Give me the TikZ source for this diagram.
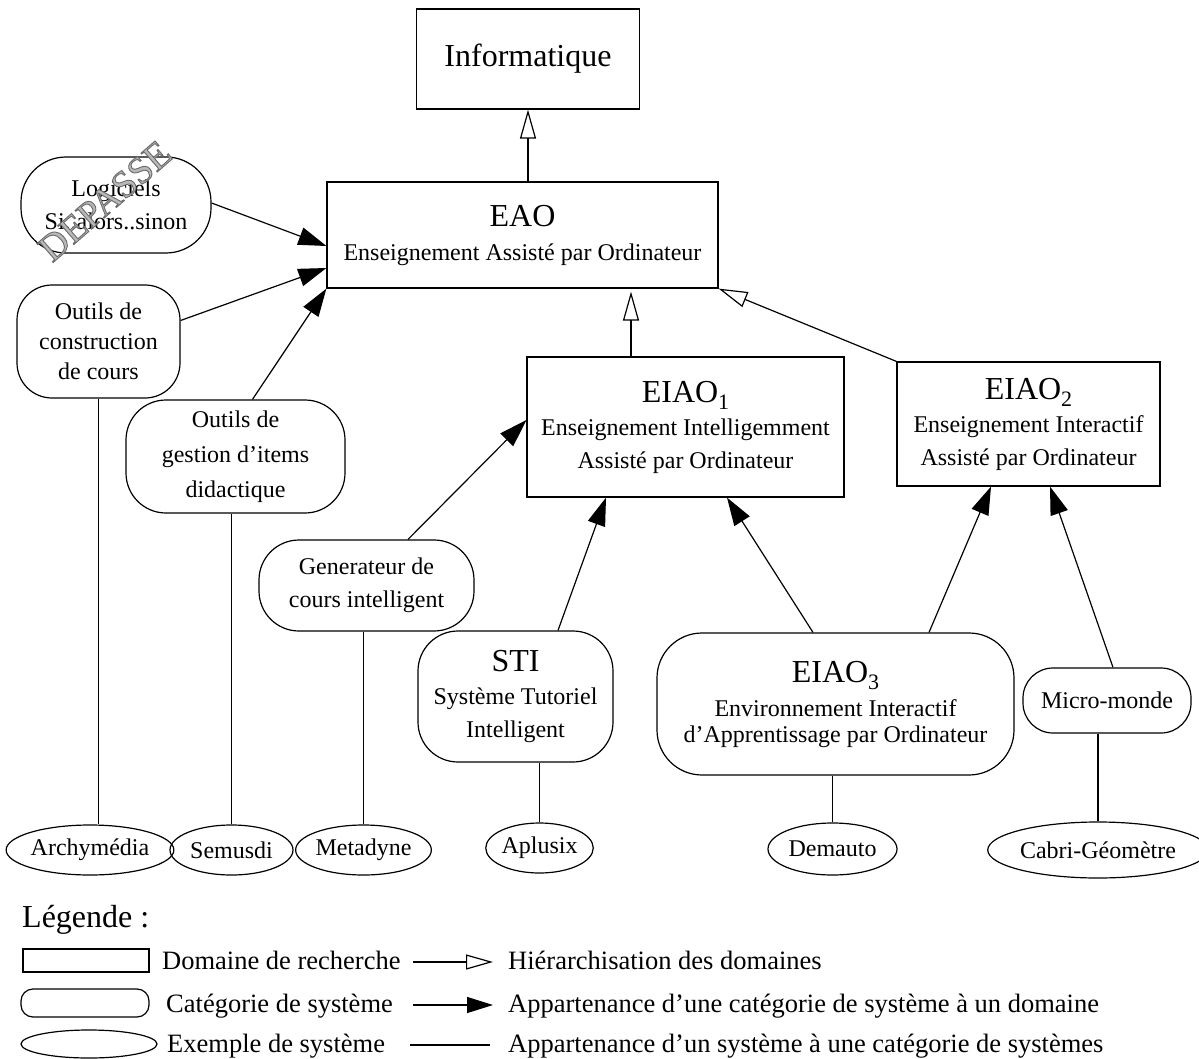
\documentclass[tikz,border=0pt]{standalone}
\usepackage{fontspec}
\setmainfont{Liberation Serif}
\usetikzlibrary{arrows.meta,shapes.geometric}

\newcommand\fs[2]{\fontsize{#1}{#2}\selectfont}
\newcommand\idx[1]{\raisebox{-7pt}{\fs{22}{22}#1}}
\definecolor{wmfill}{gray}{0.72}

\tikzset{
  domainbox/.style={draw, line width=1.2pt, inner sep=0pt, align=center, font=\fs{24}{33}},
  categorybox/.style={draw, line width=1.2pt, inner sep=0pt, align=center, font=\fs{24}{33}},
  examplebox/.style={draw, ellipse, line width=1.2pt, inner sep=0pt, font=\fs{24}{24}},
  hierarrow/.style={line width=1.2pt, -{Triangle[open, length=29pt, width=16pt]}},
  memberarrow/.style={line width=1.2pt, -{Triangle[length=28pt, width=18pt]}},
  instline/.style={line width=1.2pt},
  keytext/.style={anchor=base west, inner sep=0pt, font=\fs{26.5}{26.5}},
}

\begin{document}
\begin{tikzpicture}[x=1pt, y=-1pt]
\useasboundingbox (0,0) rectangle (1199,1059);

% research domains
\node[domainbox, minimum width=223pt, minimum height=100pt] (info) at (528,59)
  {\fs{32}{33}Informatique};
\node[domainbox, minimum width=391pt, minimum height=106pt, font=\fs{24}{34}] (eao) at (522.5,235)
  {{\fs{32}{34}EAO}\\Enseignement Assisté par Ordinateur};
\node[domainbox, minimum width=317pt, minimum height=140pt] (eiao1) at (685.5,427)
  {{\fs{32}{33}EIAO\idx{1}}\\Enseignement Intelligemment\\Assisté par Ordinateur};
\node[domainbox, minimum width=263pt, minimum height=124pt] (eiao2) at (1028.5,424)
  {{\fs{32}{33}EIAO\idx{2}}\\Enseignement Interactif\\Assisté par Ordinateur};

% system categories
\node[categorybox, rounded corners=45pt, minimum width=190pt, minimum height=96pt] (logi) at (116,205)
  {Logiciels\\Si..alors..sinon};
\node[categorybox, rounded corners=35pt, minimum width=163pt, minimum height=113pt, font=\fs{24}{30}] (constr) at (98.5,341.5)
  {Outils de\\construction\\de cours};
\node[categorybox, rounded corners=40pt, minimum width=219pt, minimum height=113pt, font=\fs{24}{35}] (gestion) at (235.5,456.5)
  {Outils de\\gestion d’items\\didactique};
\node[categorybox, rounded corners=40pt, minimum width=215pt, minimum height=91pt] (gen) at (366.5,585.5)
  {Generateur de\\cours intelligent};
\node[categorybox, rounded corners=40pt, minimum width=195pt, minimum height=131pt] (sti) at (515.5,696.5)
  {{\fs{32}{33}STI}\\Système Tutoriel\\Intelligent};
\node[categorybox, rounded corners=45pt, minimum width=357pt, minimum height=142pt, font=\fs{24}{34}] (eiao3) at (835.5,704)
  {{\fs{32}{34}EIAO\idx{3}}\\Environnement Interactif\\[-8pt]d’Apprentissage par Ordinateur};
\node[categorybox, rounded corners=30pt, minimum width=168pt, minimum height=65pt] (micro) at (1107,700.5)
  {Micro-monde};

% example systems
\node[examplebox, minimum width=156pt, minimum height=50pt] (arch) at (90,850) {Archymédia};
\node[examplebox, minimum width=123pt, minimum height=50pt] (semu) at (231.5,850) {Semusdi};
\node[examplebox, minimum width=127pt, minimum height=50pt] (meta) at (363.5,850) {Metadyne};
\node[examplebox, minimum width=97pt, minimum height=50pt] (aplu) at (539.5,848) {Aplusix};
\node[examplebox, minimum width=129pt, minimum height=52pt] (dema) at (832.5,849) {Demauto};
\node[examplebox, minimum width=200pt, minimum height=56pt] (cabri) at (1098,850) {Cabri-Géomètre};

% domain hierarchy
\draw[hierarrow] (eao.north -| info.south) -- (info.south);
\coordinate (up1) at ([xshift=-54.5pt]eiao1.north);
\draw[hierarrow] (up1) -- ([yshift=-3pt]up1 |- eao.south);
\draw[hierarrow] (eiao2.north west) -- (eao.south east);

% categories belonging to domains
\draw[memberarrow] ([yshift=2pt]logi.east) -- ([yshift=-11pt]eao.west);
\draw[memberarrow] ([yshift=21pt]constr.east) -- ([yshift=-33pt]eao.west);
\draw[memberarrow] ([xshift=17pt]gestion.north) -- (eao.south west);
\draw[memberarrow] ([xshift=41.5pt]gen.north) -- ([yshift=7pt]eiao1.west);
\draw[memberarrow] ([xshift=42.5pt]sti.north) -- ([xshift=-79.5pt]eiao1.south);
\draw[memberarrow] ([xshift=-22.5pt]eiao3.north) -- ([xshift=41.5pt]eiao1.south);
\draw[memberarrow] ([xshift=93.5pt]eiao3.north) -- ([xshift=-37.5pt]eiao2.south);
\draw[memberarrow] ([xshift=6pt]micro.north) -- ([xshift=21.5pt]eiao2.south);

% systems belonging to categories
\draw[instline] (constr.south) -- (constr.south |- arch.north);
\draw[instline] (semu.north) -- (semu.north |- gestion.south);
\draw[instline] (meta.north) -- (meta.north |- gen.south);
\draw[instline] (aplu.north) -- (aplu.north |- sti.south);
\draw[instline] (dema.north) -- (dema.north |- eiao3.south);
\draw[instline] (cabri.north) -- (cabri.north |- micro.south);

% legend
\node[anchor=base west, inner sep=0pt, font=\fs{32}{32}] (lgtitle) at (22,927) {Légende :};
\node[domainbox, minimum width=126pt, minimum height=23pt] (lgdom) at (86,960.5) {};
\node[keytext] (lgdomt) at (162,969) {Domaine de recherche};
\node[categorybox, rounded corners=12pt, minimum width=128pt, minimum height=28pt] (lgcat) at (85,1003) {};
\node[keytext] (lgcatt) at (166,1012) {Catégorie de système};
\node[examplebox, minimum width=136pt, minimum height=28pt] (lgex) at (89,1044) {};
\node[keytext] (lgext) at (167,1052) {Exemple de système};

\coordinate (k1a) at (413,962); \coordinate (k1b) at (493,962);
\coordinate (k2a) at (413,1005); \coordinate (k2b) at (493,1005);
\coordinate (k3a) at (410,1045); \coordinate (k3b) at (490,1045);
\draw[line width=1.2pt, -{Triangle[open, length=27pt, width=15pt]}] (k1a) -- (k1b);
\draw[line width=1.2pt, -{Triangle[length=26pt, width=16pt]}] (k2a) -- (k2b);
\draw[instline] (k3a) -- (k3b);
\node[keytext] (lgh) at (508,969) {Hiérarchisation des domaines};
\node[keytext] (lgm) at (508,1012) {Appartenance d’une catégorie de système à un domaine};
\node[keytext] (lgi) at (508,1052) {Appartenance d’un système à une catégorie de systèmes};

% stamp across the first category: light fill, darker outline
\node[rotate=41, text=wmfill, font=\fs{38}{38}, inner sep=0pt] (stamp) at (105,201)
  {\special{pdf:literal direct 2 Tr 0.9 w 0.42 G}DEPASSE\special{pdf:literal direct 0 Tr}};
\end{tikzpicture}
\end{document}
